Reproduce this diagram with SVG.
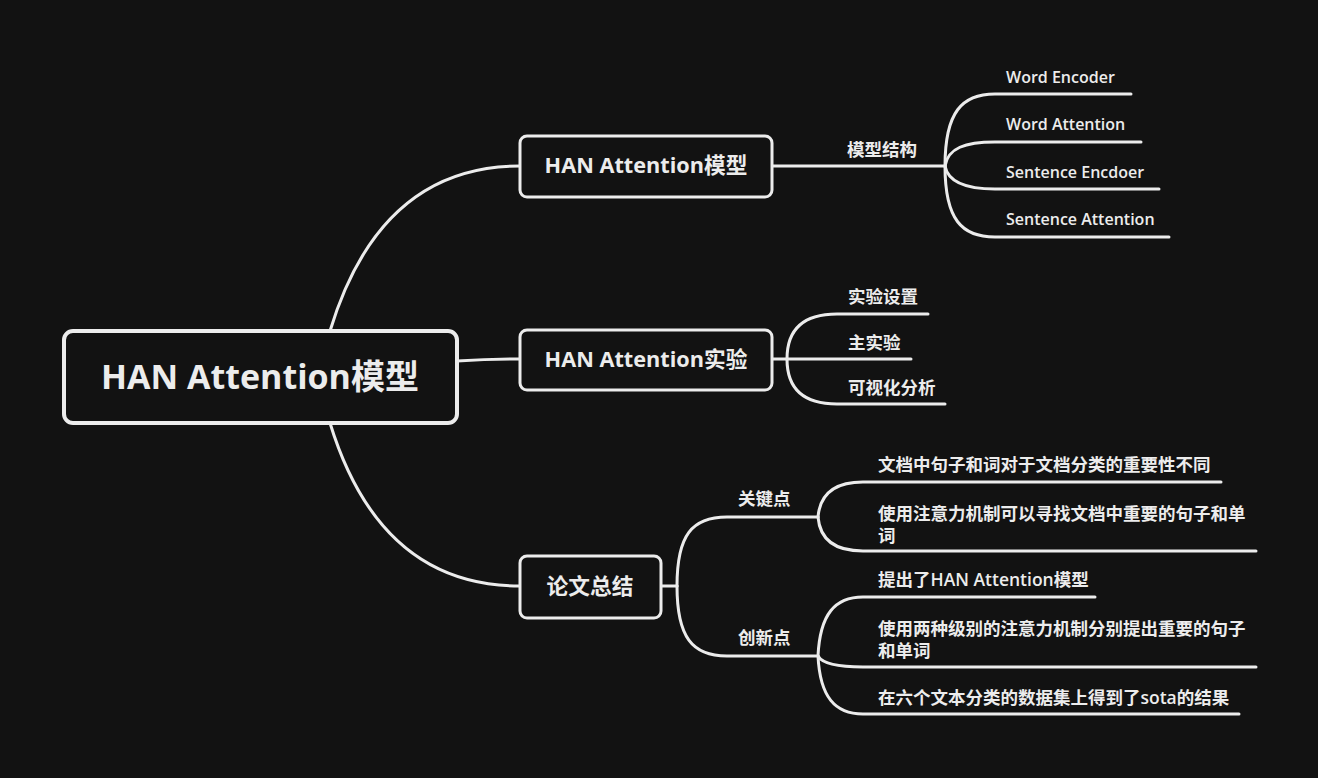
<svg xmlns="http://www.w3.org/2000/svg" width="1318" height="778" viewBox="0 0 1318 778">
<style>
.bg{fill:#121212}
.box{fill:#121212;stroke:#ececec}
.ln{fill:none;stroke:#ececec;stroke-width:3;stroke-linecap:round}
text{fill:#ececec;font-family:"Open Sans","Noto Sans CJK SC",sans-serif;font-weight:600}
.t1{font-size:34px;font-weight:700}
.t2{font-size:21.7px;font-weight:700}
.t3{font-size:17.5px;font-weight:700}
.t4{font-size:16px}
.lat{font-weight:600}
</style>
<rect class="bg" x="0" y="0" width="1318" height="778"/>
<g id="connectors">
<path class="ln" d="M330,331 Q380,166 520,166"/>
<path class="ln" d="M457,361 C490,359 490,359 520,359"/>
<path class="ln" d="M330,423 Q380,586 520,586"/>
<path class="ln" d="M772,166 L945,166"/>
<path class="ln" d="M945,166 C945,112 962,94 995,94 L1131,94"/>
<path class="ln" d="M945,166 C948,148 965,142 995,142 L1141,142"/>
<path class="ln" d="M945,166 C948,182 965,189 995,189 L1159,189"/>
<path class="ln" d="M945,166 C945,220 962,237 995,237 L1169,237"/>
<path class="ln" d="M772,359 L787,359"/>
<path class="ln" d="M787,359 C787,328 805,314 837,314 L928,314"/>
<path class="ln" d="M787,359 L911,359"/>
<path class="ln" d="M787,359 C787,390 805,404 837,404 L945,404"/>
<path class="ln" d="M661,586 L677,586"/>
<path class="ln" d="M677,586 C677,535 692,517 727,517 L818,517"/>
<path class="ln" d="M677,586 C677,637 692,656 727,656 L818,656"/>
<path class="ln" d="M818,517 C820,494 835,482 863,482 L1221,482"/>
<path class="ln" d="M818,517 C820,540 835,551 863,551 L1256,551"/>
<path class="ln" d="M818,656 C820,614 835,597 863,597 L1095,597"/>
<path class="ln" d="M818,656 C822,663 835,667 863,667 L1256,667"/>
<path class="ln" d="M818,656 C820,697 835,714 863,714 L1239,714"/>
</g>
<g id="root">
<rect class="box" x="64" y="331" width="393" height="92" rx="9" stroke-width="4"/>
<text class="t1" x="260" y="389" text-anchor="middle">HAN Attention模型</text>
</g>
<g id="n-model">
<rect class="box" x="520" y="136" width="252" height="61" rx="7" stroke-width="3"/>
<text class="t2" x="646" y="173" text-anchor="middle">HAN Attention模型</text>
</g>
<g id="n-exp">
<rect class="box" x="520" y="330" width="252" height="60" rx="7" stroke-width="3"/>
<text class="t2" x="646" y="367" text-anchor="middle">HAN Attention实验</text>
</g>
<g id="n-summary">
<rect class="box" x="520" y="556" width="141" height="62" rx="7" stroke-width="3"/>
<text class="t2" x="590" y="594" text-anchor="middle">论文总结</text>
</g>
<g id="n-structure"><text class="t3" x="847" y="156">模型结构</text></g>
<g id="n-we"><text class="t4" x="1006" y="83">Word Encoder</text></g>
<g id="n-wa"><text class="t4" x="1006" y="130">Word Attention</text></g>
<g id="n-se"><text class="t4" x="1006" y="178">Sentence Encdoer</text></g>
<g id="n-sa"><text class="t4" x="1006" y="225">Sentence Attention</text></g>
<g id="n-setup"><text class="t3" x="848" y="303">实验设置</text></g>
<g id="n-main"><text class="t3" x="848" y="349">主实验</text></g>
<g id="n-vis"><text class="t3" x="848" y="394">可视化分析</text></g>
<g id="n-key"><text class="t3" x="738" y="505">关键点</text></g>
<g id="n-innov"><text class="t3" x="738" y="644">创新点</text></g>
<g id="n-k1"><text class="t3" x="878" y="471">文档中句子和词对于文档分类的重要性不同</text></g>
<g id="n-k2"><text class="t3" x="878" y="520">使用注意力机制可以寻找文档中重要的句子和单</text><text class="t3" x="878" y="542">词</text></g>
<g id="n-i1"><text class="t3" x="878" y="586">提出了<tspan class="lat">HAN Attention</tspan>模型</text></g>
<g id="n-i2"><text class="t3" x="878" y="635">使用两种级别的注意力机制分别提出重要的句子</text><text class="t3" x="878" y="657">和单词</text></g>
<g id="n-i3"><text class="t3" x="878" y="704">在六个文本分类的数据集上得到了<tspan class="lat">sota</tspan>的结果</text></g>
</svg>
